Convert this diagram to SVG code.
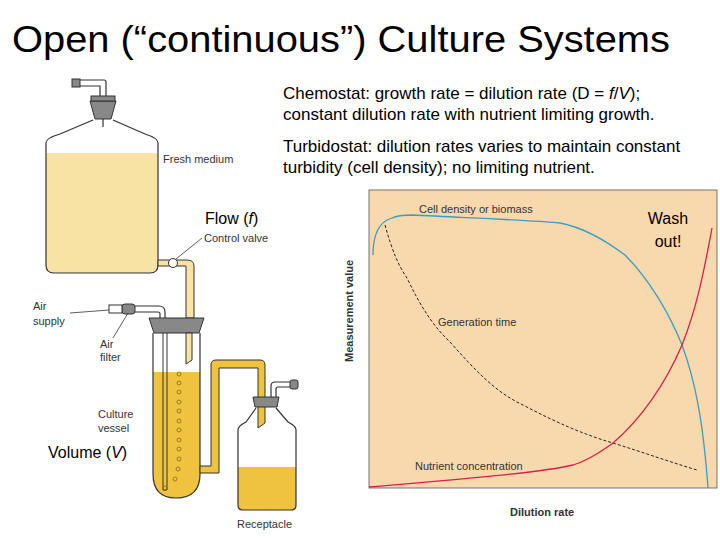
<svg xmlns="http://www.w3.org/2000/svg" width="720" height="540" viewBox="0 0 720 540">
<style>
.t{font-family:"Liberation Sans",Arial,sans-serif;fill:#000}
.s{font-family:"Liberation Sans",Arial,sans-serif;font-size:11px;fill:#333}
.g{fill:#888;stroke:#333;stroke-width:1}
.gl{fill:none;stroke:#333;stroke-width:1.2}
.med{fill:#f8e2a4}
.cul{fill:#efc33f}
.lead{stroke:#333;stroke-width:0.8;fill:none}
</style>
<rect width="720" height="540" fill="#fff"/>
<text class="t" x="12" y="52" font-size="36" textLength="658" lengthAdjust="spacingAndGlyphs">Open (“continuous”) Culture Systems</text>
<text class="t" x="283" y="99" font-size="17">Chemostat: growth rate = dilution rate (D = <tspan font-style="italic">f</tspan>/<tspan font-style="italic">V</tspan>);</text>
<text class="t" x="283" y="120" font-size="17">constant dilution rate with nutrient limiting growth.</text>
<text class="t" x="283" y="152" font-size="17">Turbidostat: dilution rates varies to maintain constant</text>
<text class="t" x="283" y="173" font-size="17">turbidity (cell density); no limiting nutrient.</text>

<g id="fresh-medium">
<path class="med" d="M46,153 H158 V265 Q158,273 150,273 H54 Q46,273 46,265 Z"/>
<path class="gl" d="M46,265 V143 Q46,138 60,134 L93,120 M113,120 L145,134 Q158,138 158,143 V265 Q158,273 150,273 H54 Q46,273 46,265"/>
<path class="g" d="M90,101 H116 L111,119 H95 Z"/>
<rect x="91" y="96" width="24" height="5" class="g"/>
<path class="gl" d="M100,96 V86 H80 M106,96 V82 Q106,80 104,80 H80"/>
<rect x="72" y="79" width="8" height="8" class="g"/>
<path class="gl" d="M103,119 V127"/>
<path class="med" stroke="#333" d="M158,260 H187 Q194,260 194,266 V318 H186 V266 H158 Z"/>
<circle cx="173" cy="263" r="4.5" fill="#fff" stroke="#333"/>
</g>
<g id="culture-vessel">
<path class="cul" d="M153,372 H200 V474 Q200,498 176,498 Q153,498 153,474 Z"/>
<path class="gl" d="M153,333 V474 Q153,498 176,498 Q200,498 200,474 V333"/>
<path class="g" d="M149,318 H204 L199,333 H154 Z"/>
<path class="med" stroke="#333" d="M186,333 H192 V360 L186,364 Z"/>
<path fill="none" stroke="#333" d="M163,333 V490 H167 V333"/>
<g fill="none" stroke="#8a6a10" stroke-width="0.8">
<circle cx="179" cy="374" r="2"/><circle cx="179" cy="383" r="2"/><circle cx="179" cy="392" r="2"/><circle cx="179" cy="402" r="2"/><circle cx="179" cy="411" r="2"/><circle cx="179" cy="421" r="2"/><circle cx="179" cy="430" r="2"/><circle cx="179" cy="440" r="2"/><circle cx="179" cy="449" r="2"/><circle cx="179" cy="459" r="2"/><circle cx="178" cy="469" r="2"/><circle cx="175" cy="479" r="2"/><circle cx="165" cy="488" r="2"/>
</g>
<path class="cul" stroke="#333" d="M200,466 H211 V365 Q211,360 216,360 H260 Q265,360 265,365 V423 L258,428 V368 H219 V473 H200 Z"/>
<path class="gl" d="M165,318 V312 Q165,306 159,306 H135 M160,318 V314 Q160,312 158,312 H135"/>
<rect x="122" y="304" width="13" height="10" class="g" rx="3" fill="#aaa"/>
<rect x="109" y="305" width="13" height="8" fill="#fff" stroke="#333"/>
</g>
<g id="receptacle">
<path class="cul" d="M238,467 H296 V505 Q296,510 291,510 H243 Q238,510 238,505 Z"/>
<path class="gl" d="M238,505 V430 Q238,426 246,422 L256,408 M276,408 L288,422 Q296,426 296,430 V505 Q296,510 291,510 H243 Q238,510 238,505"/>
<path class="g" d="M253,397 H279 L277,407 H255 Z"/>
<path class="gl" d="M271,397 V386 Q271,382 275,382 H290 M276,397 V389 Q276,387 278,387 H290"/>
<rect x="290" y="380" width="8" height="9" class="g" rx="2"/>
</g>
<g id="labels-left">
<text class="s" x="163" y="163">Fresh medium</text>
<text class="s" x="204" y="242">Control valve</text>
<text class="s" x="33" y="310">Air</text>
<text class="s" x="33" y="325">supply</text>
<text class="s" x="100" y="348">Air</text>
<text class="s" x="100" y="361">filter</text>
<text class="s" x="98" y="418">Culture</text>
<text class="s" x="98" y="432">vessel</text>
<text class="s" x="237" y="528">Receptacle</text>
<path class="lead" d="M70,313 L109,310 M113,338 L128,313 M176,259 L202,238"/>
<text class="t" x="205" y="224" font-size="16">Flow (<tspan font-style="italic">f</tspan>)</text>
<text class="t" x="48" y="458" font-size="16">Volume (<tspan font-style="italic">V</tspan>)</text>
</g>
<g id="graph">
<rect x="369" y="190" width="348" height="298" fill="#f8d9ae" stroke="#555" stroke-width="0.8"/>
<path d="M385,225 C392,250 398,265 407,278 C420,305 432,325 450,342 C475,370 495,392 523,405 C555,422 585,435 613,443 C645,453 670,462 697,470" fill="none" stroke="#222" stroke-width="1" stroke-dasharray="3,2"/>
<path d="M373,255 C373,235 378,222 392,218 C398,215 405,215 412,215 C470,218 530,220 560,223 C585,228 605,240 625,255 C650,280 670,315 682,345 C695,380 703,420 708,488" fill="none" stroke="#3a9ec0" stroke-width="1.3"/>
<path d="M369,487 C450,480 540,473 573,465 C590,460 603,450 613,443 C640,420 665,385 682,345 C698,305 705,265 712,228" fill="none" stroke="#d8204a" stroke-width="1.3"/>
<text class="s" x="419" y="213" fill="#222">Cell density or biomass</text>
<text class="s" x="438" y="326" fill="#222">Generation time</text>
<text class="s" x="415" y="470" fill="#222">Nutrient concentration</text>
<text class="s" x="510" y="516" font-weight="bold" fill="#111">Dilution rate</text>
<text class="s" font-weight="bold" fill="#111" transform="translate(353,362) rotate(-90)">Measurement value</text>
<text class="t" x="668" y="224" font-size="16" text-anchor="middle">Wash</text>
<text class="t" x="668" y="247" font-size="16" text-anchor="middle">out!</text>
</g>
</svg>
